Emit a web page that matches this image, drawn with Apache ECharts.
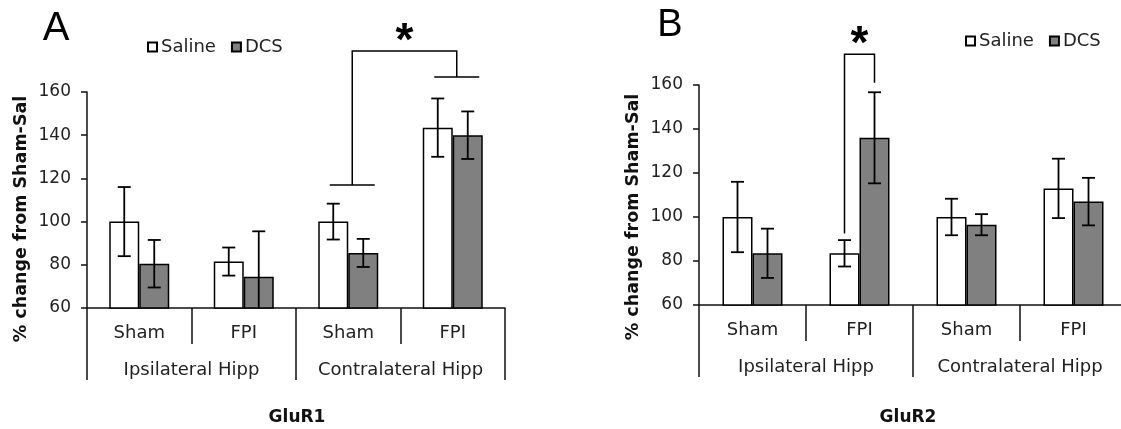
<!DOCTYPE html>
<html>
<head>
<meta charset="utf-8">
<script src="https://cdn.jsdelivr.net/npm/echarts@6/dist/echarts.min.js"></script>
<style>
html,body{margin:0;padding:0;background:#fff;overflow:hidden;}
#c{width:1121px;height:429px;overflow:hidden;position:relative;}
</style>
</head>
<body>
<div id="c"></div>
<script>
// ---- data ----
const subCategories = ['Sham', 'FPI', 'Sham', 'FPI'];
const groupCategories = ['Ipsilateral Hipp', 'Contralateral Hipp'];
const seriesNames = ['Saline', 'DCS'];
const yTicks = [60, 80, 100, 120, 140, 160];

// Panel A: GluR1
const salineA = [100, 81.5, 100, 143.5];
const salineErrA = [16, 6.5, 8.3, 13.5];
const dcsA = [80.5, 74.5, 85.5, 140];
const dcsErrA = [11, 21, 6.5, 11];
// significance bracket A: categories, end heights, top height
const bracketCatsA = [2, 3];
const bracketEndsA = [117, 167];
const bracketTopA = 179;

// Panel B: GluR2
const salineB = [100, 83.5, 100, 113];
const salineErrB = [16, 6, 8.3, 13.5];
const dcsB = [83.5, 136, 96.5, 107];
const dcsErrB = [11.2, 20.7, 4.8, 10.8];
const bracketCatsB = [1, 1];
const bracketEndsB = [92.5, 161];
const bracketTopB = 174;

// ---- styling ----
const FONT = 'DejaVu Sans';
const TXT = '#222';
const LINE = '#111';
const BAR_W = 30;

// the right panel runs slightly past the picture's right edge, as in the original figure
const chart = echarts.init(document.getElementById('c'), null, {renderer: 'canvas', width: 1128, height: 429});

function makeXAxes(gridIndex) {
  return [
    {
      type: 'category', gridIndex, data: subCategories, position: 'bottom',
      axisLine: {show: true, lineStyle: {color: LINE, width: 1.5}},
      axisTick: {show: true, interval: 0, length: 36, alignWithLabel: false, lineStyle: {color: LINE, width: 1.5}},
      axisLabel: {interval: 0, margin: 16, fontFamily: FONT, fontSize: 18, color: TXT}
    },
    {
      type: 'category', gridIndex, data: groupCategories, position: 'bottom', offset: 36,
      axisLine: {show: false},
      axisTick: {show: true, interval: 0, length: 36, alignWithLabel: false, lineStyle: {color: LINE, width: 1.5}},
      axisLabel: {interval: 0, margin: 17, fontFamily: FONT, fontSize: 18, color: TXT}
    }
  ];
}
function makeYAxis(gridIndex) {
  return {
    type: 'value', gridIndex, min: yTicks[0], max: yTicks[yTicks.length - 1], interval: yTicks[1] - yTicks[0],
    axisLine: {show: true, lineStyle: {color: LINE, width: 1.5}},
    axisTick: {show: true, length: 6, lineStyle: {color: LINE, width: 1.5}},
    axisLabel: {margin: 16, fontFamily: FONT, fontSize: 17, color: TXT},
    splitLine: {show: false}
  };
}

function barSeries(name, xi, yi, vals, color) {
  return {
    type: 'bar', name, xAxisIndex: xi, yAxisIndex: yi, data: vals,
    barWidth: BAR_W, barGap: '0%',
    itemStyle: {color, borderColor: '#000', borderWidth: 1.5},
    emphasis: {disabled: true}, z: 2
  };
}

function errSeries(xi, yi, vals, errs, side) {
  return {
    type: 'custom', xAxisIndex: xi, yAxisIndex: yi, clip: true, z: 5, silent: true,
    data: vals.map((v, i) => [i, v, errs[i]]),
    renderItem: function (params, api) {
      const i = api.value(0), v = api.value(1), e = api.value(2);
      const hi = api.coord([i, v + e]);
      const lo = api.coord([i, v - e]);
      const x = hi[0] + side * BAR_W / 2;
      const cap = 6.5;
      const st = {stroke: '#000', lineWidth: 1.8};
      return {
        type: 'group',
        children: [
          {type: 'line', shape: {x1: x, y1: hi[1], x2: x, y2: lo[1]}, style: st},
          {type: 'line', shape: {x1: x - cap, y1: hi[1], x2: x + cap, y2: hi[1]}, style: st},
          {type: 'line', shape: {x1: x - cap, y1: lo[1], x2: x + cap, y2: lo[1]}, style: st}
        ]
      };
    }
  };
}

function bracketSeries(xi, yi, cats, ends, top, offsets, capW) {
  return {
    type: 'custom', xAxisIndex: xi, yAxisIndex: yi, clip: false, z: 6, silent: true,
    data: [[cats[0], ends[0], cats[1], ends[1], top]],
    renderItem: function (params, api) {
      const pL = api.coord([api.value(0), api.value(1)]);
      const pR = api.coord([api.value(2), api.value(3)]);
      const pT = api.coord([api.value(0), api.value(4)]);
      const xl = pL[0] + offsets[0], xr = pR[0] + offsets[1];
      const yt = pT[1];
      const st = {stroke: '#000', lineWidth: 1.5, fill: null};
      const children = [
        {type: 'polyline', shape: {points: [[xl, pL[1]], [xl, yt], [xr, yt], [xr, pR[1]]]}, style: st}
      ];
      if (capW > 0) {
        children.push({type: 'line', shape: {x1: xl - capW / 2, y1: pL[1], x2: xl + capW / 2, y2: pL[1]}, style: st});
        children.push({type: 'line', shape: {x1: xr - capW / 2, y1: pR[1], x2: xr + capW / 2, y2: pR[1]}, style: st});
      }
      children.push({
        type: 'text',
        style: {text: '*', x: (xl + xr) / 2, y: yt - 9, align: 'center', verticalAlign: 'middle',
                font: 'bold 46px "Liberation Sans"', fill: '#000'}
      });
      return {type: 'group', children};
    }
  };
}

const option = {
  backgroundColor: '#fff',
  animation: false,
  grid: [
    {left: 87, top: 92, width: 418, height: 216, containLabel: false},
    {left: 699, top: 85, width: 428, height: 220, containLabel: false}
  ],
  xAxis: [...makeXAxes(0), ...makeXAxes(1)],
  yAxis: [makeYAxis(0), makeYAxis(1)],
  legend: [
    {data: seriesNames, left: 147, top: 38, padding: 0, icon: 'rect', itemWidth: 9, itemHeight: 9, itemGap: 15,
     textStyle: {fontFamily: FONT, fontSize: 18, color: TXT, padding: [0, 0, 0, -1]}, selectedMode: false},
    {data: seriesNames, left: 965, top: 32, padding: 0, icon: 'rect', itemWidth: 9, itemHeight: 9, itemGap: 15,
     textStyle: {fontFamily: FONT, fontSize: 18, color: TXT, padding: [0, 0, 0, -1]}, selectedMode: false}
  ],
  series: [
    barSeries(seriesNames[0], 0, 0, salineA, '#ffffff'),
    barSeries(seriesNames[1], 0, 0, dcsA, '#808080'),
    errSeries(0, 0, salineA, salineErrA, -1),
    errSeries(0, 0, dcsA, dcsErrA, 1),
    bracketSeries(0, 0, bracketCatsA, bracketEndsA, bracketTopA, [4, 4], 45),
    barSeries(seriesNames[0], 2, 1, salineB, '#ffffff'),
    barSeries(seriesNames[1], 2, 1, dcsB, '#808080'),
    errSeries(2, 1, salineB, salineErrB, -1),
    errSeries(2, 1, dcsB, dcsErrB, 1),
    bracketSeries(2, 1, bracketCatsB, bracketEndsB, bracketTopB, [-BAR_W / 2, BAR_W / 2], 0)
  ],
  graphic: [
    {type: 'text', x: 56, y: 29, style: {text: 'A', font: '40px "Liberation Sans"', fill: '#000', align: 'center', verticalAlign: 'middle'}},
    {type: 'text', x: 670, y: 26, style: {text: 'B', font: '38px "Liberation Sans"', fill: '#000', align: 'center', verticalAlign: 'middle'}},
    {type: 'text', x: 21, y: 219, rotation: Math.PI / 2,
     style: {text: '% change from Sham-Sal', font: 'bold 17.5px "DejaVu Sans"', fill: '#111', align: 'center', verticalAlign: 'middle'}},
    {type: 'text', x: 633, y: 217, rotation: Math.PI / 2,
     style: {text: '% change from Sham-Sal', font: 'bold 17.5px "DejaVu Sans"', fill: '#111', align: 'center', verticalAlign: 'middle'}},
    {type: 'text', x: 297, y: 418, style: {text: 'GluR1', font: 'bold 17px "DejaVu Sans"', fill: '#111', align: 'center', verticalAlign: 'middle'}},
    {type: 'text', x: 908, y: 418, style: {text: 'GluR2', font: 'bold 17px "DejaVu Sans"', fill: '#111', align: 'center', verticalAlign: 'middle'}}
  ]
};
chart.setOption(option);
</script>
</body>
</html>
